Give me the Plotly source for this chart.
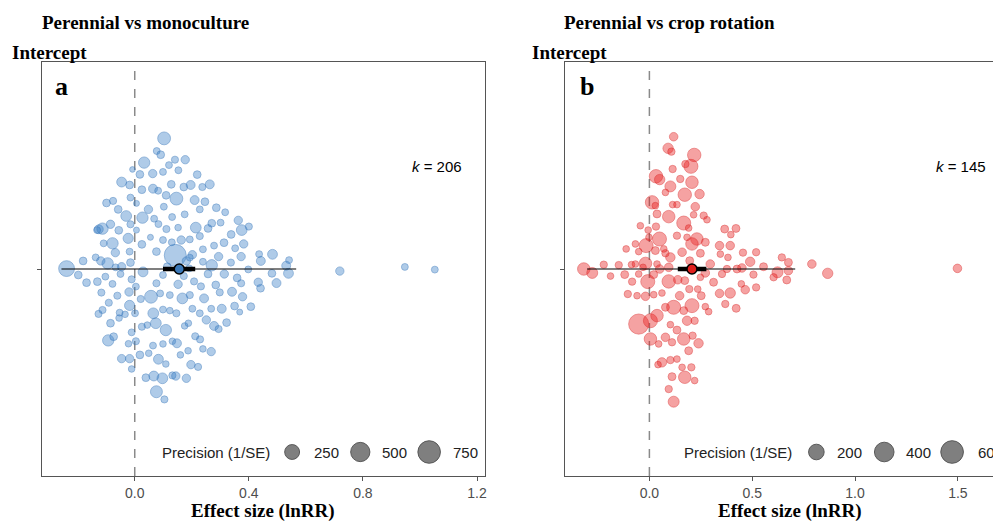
import plotly.graph_objects as go
import math

# screen size and the 8px body margin of the html page
SW, SH = 1001, 522
OFF = 8
W, H = SW - OFF, SH - OFF

# ---------------- Panel a : Perennial vs monoculture ----------------
a_effect = [
    0.103, 0.077, 0.091, 0.141, 0.177, 0.033, 0.120, -0.008, 0.018, 0.063,
    0.099, 0.153, 0.219, -0.046, -0.018, 0.128, 0.172, 0.196, 0.237, 0.263,
    0.025, 0.064, 0.082, 0.110, 0.146, -0.015, 0.210, 0.246, -0.099, -0.076,
    0.006, -0.058, 0.048, 0.102, 0.228, 0.286, 0.317, -0.030, 0.027, 0.175,
    0.131, 0.068, 0.083, 0.363, 0.270, 0.301, -0.126, -0.113, -0.085, -0.015,
    0.111, 0.152, 0.214, 0.257, 0.375, 0.400, 0.228, -0.056, 0.006, -0.023,
    0.055, 0.099, 0.163, 0.193, 0.338, -0.078, -0.109, 0.025, 0.130, 0.239,
    0.278, 0.313, 0.382, 0.352, -0.068, -0.018, 0.076, 0.142, -0.137, -0.119,
    -0.095, -0.181, -0.046, -0.015, 0.202, 0.181, 0.294, 0.337, 0.373, 0.239,
    0.436, 0.483, 0.541, -0.239, -0.198, -0.169, -0.131, -0.103, -0.078, -0.050,
    -0.011, 0.004, 0.029, 0.076, 0.099, 0.114, 0.152, 0.172, 0.191, 0.208,
    0.232, 0.257, 0.270, 0.314, 0.359, 0.373, 0.398, 0.433, 0.441, 0.481,
    0.497, 0.531, 0.539, 0.442, 0.719, 0.947, 1.052,
    -0.117, -0.061, -0.020, 0.021, 0.057, 0.089, 0.123, 0.167, 0.193, 0.243,
    0.284, 0.298, 0.341, 0.378, -0.091, -0.018, -0.127, -0.113, -0.053, 0.001,
    0.065, 0.099, 0.123, 0.146, 0.202, 0.228, 0.268, 0.305, 0.350, 0.368,
    0.407, -0.085, -0.055, -0.034, 0.025, 0.074, 0.109, 0.044, 0.175, 0.188,
    0.251, 0.278, 0.294, 0.322, -0.011, -0.093, -0.074, -0.022, 0.004, 0.064,
    0.099, 0.132, 0.148, 0.212, 0.229, 0.160, 0.187, 0.239, 0.268, 0.018,
    0.049, -0.046, -0.018, 0.083, 0.109, -0.011, 0.197, 0.222, 0.039, 0.067,
    0.097, 0.132, 0.144, 0.181, 0.076, 0.104,
    -0.132, 0.193, -0.067,
]
a_jitter = [
    0.631, 0.570, 0.552, 0.528, 0.528, 0.514, 0.502, 0.481, 0.457, 0.461,
    0.469, 0.477, 0.456, 0.420, 0.406, 0.409, 0.396, 0.406, 0.396, 0.409,
    0.383, 0.388, 0.378, 0.356, 0.340, 0.345, 0.333, 0.325, 0.319, 0.329,
    0.317, 0.288, 0.288, 0.301, 0.288, 0.296, 0.274, 0.256, 0.248, 0.264,
    0.251, 0.243, 0.217, 0.235, 0.221, 0.224, 0.192, 0.195, 0.216, 0.216,
    0.193, 0.200, 0.200, 0.196, 0.188, 0.205, 0.159, 0.187, 0.188, 0.148,
    0.153, 0.140, 0.140, 0.143, 0.167, 0.124, 0.124, 0.119, 0.129, 0.095,
    0.113, 0.127, 0.121, 0.100, 0.079, 0.084, 0.084, 0.066, 0.056, 0.039,
    0.027, 0.039, 0.011, 0.031, 0.069, 0.039, 0.060, 0.031, 0.060, 0.035,
    0.072, 0.071, 0.043, 0.002, -0.029, -0.066, -0.061, -0.037, -0.072, -0.024,
    -0.050, -0.085, -0.014, -0.069, -0.029, 0.011, -0.074, -0.034, 0.003, -0.060,
    -0.084, -0.024, 0.018, -0.024, -0.043, -0.069, -0.002, -0.064, -0.093, -0.021,
    -0.068, 0.016, -0.021, 0.039, -0.010, 0.010, -0.003,
    -0.114, -0.129, -0.111, -0.145, -0.134, -0.118, -0.126, -0.142, -0.126, -0.142,
    -0.077, -0.113, -0.110, -0.134, -0.163, -0.176, -0.217, -0.198, -0.211, -0.214,
    -0.214, -0.196, -0.201, -0.214, -0.192, -0.214, -0.192, -0.192, -0.179, -0.208,
    -0.182, -0.262, -0.237, -0.219, -0.279, -0.262, -0.295, -0.271, -0.275, -0.262,
    -0.246, -0.275, -0.290, -0.259, -0.306, -0.345, -0.327, -0.361, -0.349, -0.370,
    -0.362, -0.349, -0.359, -0.325, -0.340, -0.415, -0.395, -0.386, -0.399, -0.415,
    -0.407, -0.433, -0.433, -0.436, -0.459, -0.483, -0.462, -0.473, -0.525, -0.517,
    -0.528, -0.514, -0.517, -0.528, -0.593, -0.630,
    0.188, 0.055, 0.008,
]
a_precision = [
    160, 13, 24, 16, 34, 107, 13, 3, 24, 34,
    13, 13, 24, 65, 24, 24, 24, 45, 16, 45,
    24, 45, 13, 24, 160, 13, 45, 24, 24, 16,
    5, 24, 34, 13, 13, 24, 13, 89, 107, 13,
    13, 13, 13, 34, 24, 13, 45, 107, 34, 16,
    16, 10, 89, 24, 89, 16, 16, 24, 5, 73,
    5, 13, 34, 13, 24, 107, 13, 24, 13, 13,
    13, 24, 34, 13, 34, 13, 24, 700, 13, 34,
    107, 24, 34, 24, 34, 34, 34, 16, 34, 13,
    13, 65, 13, 295, 24, 24, 24, 13, 13, 13,
    16, 13, 65, 16, 13, 24, 34, 16, 13, 16,
    16, 24, 107, 34, 24, 16, 13, 34, 24, 24,
    45, 45, 65, 45, 34, 13, 13,
    16, 16, 34, 16, 160, 13, 13, 89, 16, 45,
    24, 16, 45, 34, 16, 73, 16, 16, 13, 13,
    89, 13, 10, 16, 13, 13, 13, 45, 24, 5,
    24, 24, 10, 10, 16, 89, 107, 10, 10, 10,
    34, 45, 16, 24, 13, 107, 24, 10, 16, 13,
    10, 10, 45, 16, 16, 10, 10, 10, 34, 24,
    10, 34, 34, 65, 10, 10, 34, 16, 24, 65,
    89, 16, 34, 34, 127, 16,
    13, 13, 13,
]
a_mean = 0.156
a_ci = [0.099, 0.212]
a_pi = [-0.257, 0.566]
a_k = 206
a_breaks = [250, 500, 750]

# ---------------- Panel b : Perennial vs crop rotation ----------------
b_effect = [
    0.118, 0.091, 0.107, 0.218, 0.202, 0.175, 0.113, 0.032, 0.050, 0.150,
    0.207, 0.102, 0.078, 0.172, 0.244, 0.013, 0.029, 0.113, 0.134, 0.223,
    0.264, 0.037, 0.094, 0.167, 0.215,
    0.280, 0.191, -0.044, -0.006, 0.032, 0.049, -0.016, 0.134, 0.183, 0.231,
    0.207, 0.272, 0.366, 0.421, 0.396, -0.068, -0.113, -0.052, 0.029, 0.078,
    0.102, 0.159, 0.248, 0.341, 0.393, 0.345, 0.382, 0.455, 0.519, 0.490,
    0.644, 0.676, -0.019, 0.037, -0.319, -0.278, -0.222, -0.189, -0.149, -0.120,
    -0.087, -0.084, -0.052, -0.008, 0.021, 0.050, 0.094, 0.094, 0.138, 0.172,
    0.194, 0.235, 0.272, 0.296, 0.312, 0.353, 0.377, 0.426, 0.450, 0.447,
    0.466, 0.506, 0.519, 0.555, 0.623, 0.668, 0.676, 0.790, 0.867, 1.498,
    0.341, 0.393, -0.105, -0.060, -0.019, 0.021, 0.061, 0.147, 0.252, -0.052,
    0.005, 0.037, 0.078, 0.118, 0.207, 0.167, 0.272, 0.288, 0.369, 0.422,
    0.183, 0.220, 0.102, 0.134, 0.167, 0.210, 0.239, 0.191, 0.078, 0.110,
    0.005, 0.045, 0.061, 0.102, 0.134, 0.042, 0.159, 0.204, 0.172, 0.110,
    0.220, 0.094, 0.118, 0.070, 0.196, 0.248, -0.031, -0.002, 0.604,
    -0.068,
]
b_jitter = [
    0.639, 0.583, 0.567, 0.551, 0.496, 0.507, 0.483, 0.448, 0.432, 0.435,
    0.419, 0.399, 0.370, 0.359, 0.362, 0.322, 0.306, 0.311, 0.311, 0.301,
    0.258, 0.266, 0.253, 0.222, 0.262,
    0.238, 0.198, 0.209, 0.188, 0.205, 0.145, 0.113, 0.161, 0.153, 0.145,
    0.121, 0.129, 0.193, 0.196, 0.166, 0.121, 0.097, 0.084, 0.089, 0.076,
    0.056, 0.081, 0.076, 0.113, 0.113, 0.072, 0.056, 0.079, 0.081, 0.035,
    0.056, 0.032, 0.027, 0.024, 0.000, -0.019, 0.021, -0.034, 0.019, -0.027,
    0.021, -0.061, -0.024, -0.061, -0.027, 0.000, 0.008, -0.060, -0.052, -0.056,
    -0.097, -0.097, -0.019, 0.024, -0.064, -0.024, 0.000, 0.000, 0.005, -0.072,
    -0.100, -0.027, -0.089, 0.011, -0.016, -0.053, -0.008, 0.024, -0.021, 0.003,
    -0.118, -0.116, -0.121, -0.129, -0.132, -0.124, -0.116, -0.129, -0.129, -0.266,
    -0.250, -0.225, -0.185, -0.185, -0.177, -0.201, -0.182, -0.206, -0.169, -0.190,
    -0.250, -0.250, -0.269, -0.295, -0.338, -0.322, -0.359, -0.395, -0.330, -0.354,
    -0.338, -0.362, -0.451, -0.440, -0.435, -0.462, -0.475, -0.475, -0.523, -0.520,
    -0.539, -0.580, -0.641, 0.097, 0.040, -0.040, 0.008, 0.153, -0.040,
    0.024,
]
b_precision = [
    14, 41, 4, 119, 139, 4, 4, 119, 41, 4,
    91, 53, 1, 119, 25, 119, 1, 1, 1, 14,
    4, 8, 91, 139, 1,
    1, 1, 1, 1, 4, 139, 139, 4, 1, 91,
    91, 8, 8, 8, 1, 1, 1, 1, 8, 4,
    25, 14, 8, 14, 14, 1, 1, 4, 4, 25,
    4, 8, 91, 1, 91, 53, 4, 1, 4, 8,
    1, 4, 1, 139, 8, 14, 14, 119, 14, 8,
    4, 1, 14, 14, 8, 4, 4, 8, 14, 1,
    14, 4, 4, 8, 53, 8, 14, 14, 41, 14,
    14, 41, 4, 1, 14, 1, 1, 14, 8, 433,
    139, 91, 8, 139, 139, 8, 1, 1, 4, 8,
    25, 4, 1, 8, 91, 4, 25, 8, 14, 4,
    91, 1, 25, 4, 1, 1, 1, 4, 91, 8,
    1, 4, 53, 1, 8, 1, 1, 1, 4,
    1,
]
b_mean = 0.207
b_ci = [0.138, 0.277]
b_pi = [-0.303, 0.709]
b_k = 145
b_breaks = [200, 400, 600]


def size_a(p):
    return 4.5 + 0.66 * math.sqrt(p)


def size_b(p):
    return 6.0 + 0.68 * math.sqrt(p)


def px(x):
    return (x - OFF) / W


def py(y):
    return 1 - (y - OFF) / H


SERIF = "Times New Roman, Liberation Serif, serif"
SANS = "Arial, Liberation Sans, sans-serif"

fig = go.Figure()


def add_panel(xa, ya, eff, jit, prec, sizef, fill, edge, mean, ci, pi_, mcol):
    pts = list(zip(eff, jit, prec))
    fig.add_trace(go.Scatter(
        x=[p[0] for p in pts], y=[p[1] for p in pts], mode="markers",
        xaxis=xa, yaxis=ya, hoverinfo="skip",
        marker=dict(size=[sizef(p[2]) for p in pts], color=fill,
                    line=dict(color=edge, width=1))))
    fig.add_trace(go.Scatter(x=pi_, y=[0, 0], mode="lines", xaxis=xa, yaxis=ya,
                             line=dict(color="black", width=1.2), hoverinfo="skip"))
    fig.add_trace(go.Scatter(x=ci, y=[0, 0], mode="lines", xaxis=xa, yaxis=ya,
                             line=dict(color="black", width=4.5), hoverinfo="skip"))
    fig.add_trace(go.Scatter(x=[mean], y=[0], mode="markers", xaxis=xa, yaxis=ya,
                             marker=dict(size=10, color=mcol,
                                         line=dict(color="black", width=1.5)),
                             hoverinfo="skip"))


add_panel("x", "y", a_effect, a_jitter, a_precision, size_a,
          "rgba(60,130,200,0.58)", "rgba(50,115,185,0.65)",
          a_mean, a_ci, a_pi, "#3a78b8")
add_panel("x2", "y2", b_effect, b_jitter, b_precision, size_b,
          "rgba(232,30,30,0.58)", "rgba(215,25,25,0.6)",
          b_mean, b_ci, b_pi, "#e0201e")

ydom = [py(476), py(62)]
axis_common = dict(showgrid=False, zeroline=False, showline=True, linecolor="#555",
                   linewidth=1, ticks="outside", ticklen=4, tickcolor="#555",
                   tickfont=dict(family=SANS, size=14, color="#4d4d4d"))

fig.update_layout(
    width=W, height=H, margin=dict(l=0, r=0, t=0, b=0),
    plot_bgcolor="white", paper_bgcolor="white", showlegend=False,
    xaxis=dict(domain=[px(42), px(486)], range=[-0.3254, 1.2281], anchor="y",
               tickvals=[0, 0.4, 0.8, 1.2], ticktext=["0.0", "0.4", "0.8", "1.2"],
               mirror=True, **axis_common),
    yaxis=dict(domain=ydom, range=[-1, 1], anchor="x", tickvals=[0], ticktext=[""],
               mirror=True, **axis_common),
    xaxis2=dict(domain=[px(566), 1.0], range=[-0.411, 1.700], anchor="y2",
                tickvals=[0, 0.5, 1.0, 1.5], ticktext=["0.0", "0.5", "1.0", "1.5"],
                mirror=True, **axis_common),
    yaxis2=dict(domain=ydom, range=[-1, 1], anchor="x2", tickvals=[0], ticktext=[""],
                mirror=False, **axis_common),
)

# dashed reference lines at zero
for xr, yr in [("x", "y domain"), ("x2", "y2 domain")]:
    fig.add_shape(type="line", xref=xr, yref=yr, x0=0, x1=0, y0=0, y1=1,
                  line=dict(color="#8a8a8a", width=1.5, dash="dash"), layer="below")

ann = []


def text(t, x, y, size, family, color="black", xanchor="center", yanchor="middle"):
    ann.append(dict(text=t, x=px(x), y=py(y), xref="paper", yref="paper",
                    xanchor=xanchor, yanchor=yanchor, showarrow=False,
                    font=dict(family=family, size=size, color=color)))


text("<b>Perennial vs monoculture</b>", 40, 22, 19, SERIF, xanchor="left")
text("<b>Intercept</b>", 10, 52, 19, SERIF, xanchor="left")
text("<b>Perennial vs crop rotation</b>", 563, 22, 19, SERIF, xanchor="left")
text("<b>Intercept</b>", 531, 52, 19, SERIF, xanchor="left")
text("<b>a</b>", 62, 86, 26, SERIF)
text("<b>b</b>", 588, 86, 26, SERIF)
text(f"<i>k</i> = {a_k}", 438, 166, 15, SANS)
text(f"<i>k</i> = {b_k}", 963, 166, 15, SANS)
text("<b>Effect size (lnRR)</b>", 264, 511, 19, SERIF)
text("<b>Effect size (lnRR)</b>", 792, 511, 19, SERIF)

# size legends
leg_a = dict(label_x=216, circles=[292.7, 361, 430], labels=[327, 395, 466])
leg_b = dict(label_x=739, circles=[818, 886, 954], labels=[851, 920, 978])
for leg, breaks, sf in [(leg_a, a_breaks, size_a), (leg_b, b_breaks, size_b)]:
    text("Precision (1/SE)", leg["label_x"], 452, 15, SANS, color="#222")
    for i, (brk, cx, lx) in enumerate(zip(breaks, leg["circles"], leg["labels"])):
        r = sf(brk) / 2
        fig.add_shape(type="circle", xref="paper", yref="paper",
                      xsizemode="pixel", ysizemode="pixel",
                      xanchor=px(cx), yanchor=py(452), x0=-r, x1=r, y0=-r, y1=r,
                      fillcolor="rgba(95,95,95,0.8)", line=dict(color="rgba(80,80,80,0.9)", width=1))
        anchor = "left" if (leg is leg_b and i == 2) else "center"
        text(str(brk), lx, 452, 15, SANS, color="#222", xanchor=anchor)

fig.update_layout(annotations=ann)
fig.write_html("out.html")
